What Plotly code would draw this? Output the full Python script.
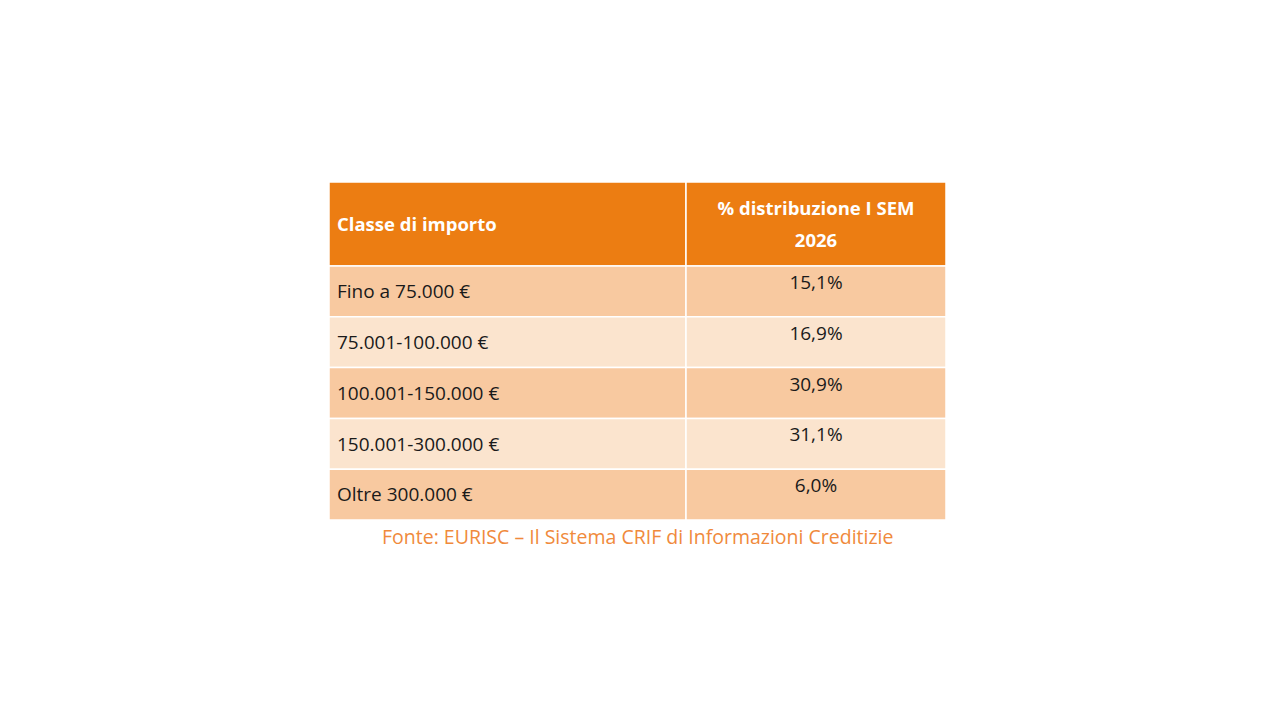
import plotly.graph_objects as go

# table content
header_labels = ["Classe di importo", "% distribuzione I SEM", "2026"]
classes = [
    "Fino a 75.000 €",
    "75.001-100.000 €",
    "100.001-150.000 €",
    "150.001-300.000 €",
    "Oltre 300.000 €",
]
shares = [15.1, 16.9, 30.9, 31.1, 6.0]
source_note = "Fonte: EURISC – Il Sistema CRIF di Informazioni Creditizie"

ORANGE = "#EC7D12"
ROW_DARK = "#F8C9A0"
ROW_LIGHT = "#FBE4CE"
NOTE = "#F08A3C"
FONT = "Open Sans"

split = 357 / 617          # left column share of table width
head_h = 84 / 50.8         # header height in row units
n = len(classes)
top = n + head_h

fig = go.Figure()

shapes = []
# header cells
for x0, x1 in [(0, split), (split, 1)]:
    shapes.append(dict(type="rect", xref="x", yref="y", x0=x0, x1=x1, y0=n, y1=top,
                       fillcolor=ORANGE, line=dict(color="white", width=1.5), layer="below"))
# body cells
for i in range(n):
    fill = ROW_DARK if i % 2 == 0 else ROW_LIGHT
    for x0, x1 in [(0, split), (split, 1)]:
        shapes.append(dict(type="rect", xref="x", yref="y", x0=x0, x1=x1,
                           y0=n - i - 1, y1=n - i,
                           fillcolor=fill, line=dict(color="white", width=1.5), layer="below"))

# left column labels, vertically centered in each row
fig.add_trace(go.Scatter(
    x=[8 / 617] * n, y=[n - i - 0.54 for i in range(n)],
    text=classes, mode="text", textposition="middle right",
    textfont=dict(family=FONT, size=19, color="#1a1a1a"), hoverinfo="skip",
))
# right column values, near the top of each row
fig.add_trace(go.Scatter(
    x=[(split + 1) / 2] * n, y=[n - i - 0.36 for i in range(n)],
    text=[f"{v:.1f}%".replace(".", ",") for v in shares], mode="text",
    textposition="middle center",
    textfont=dict(family=FONT, size=19, color="#1a1a1a"), hoverinfo="skip",
))
# header text
fig.add_trace(go.Scatter(
    x=[8 / 617, (split + 1) / 2, (split + 1) / 2],
    y=[n + head_h / 2 - 0.04, top - 28 / 50.8, top - 60 / 50.8],
    text=header_labels, mode="text",
    textposition=["middle right", "middle center", "middle center"],
    textfont=dict(family=FONT, size=18.5, color="white", weight="bold"), hoverinfo="skip",
))

fig.add_annotation(
    text=source_note, xref="paper", yref="paper", x=0.5, y=-16 / 338,
    xanchor="center", yanchor="middle", showarrow=False,
    font=dict(family=FONT, size=19.5, color=NOTE),
)

# page body adds an 8px offset, so margins are shifted to compensate
fig.update_layout(
    width=1280, height=720,
    margin=dict(l=321, r=342, t=174, b=208),
    paper_bgcolor="white", plot_bgcolor="white",
    showlegend=False, shapes=shapes,
    xaxis=dict(range=[0, 1], visible=False, fixedrange=True),
    yaxis=dict(range=[0, top], visible=False, fixedrange=True),
)

fig.write_html("out.html")
